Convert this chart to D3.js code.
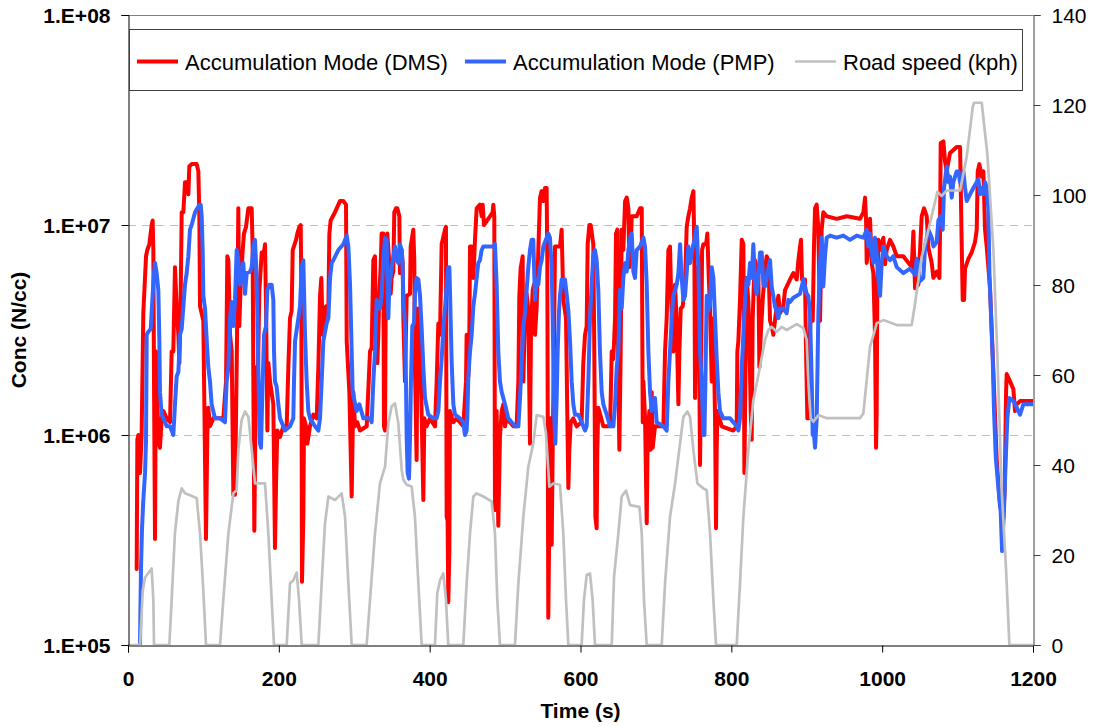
<!DOCTYPE html>
<html><head><meta charset="utf-8">
<script src="https://cdn.jsdelivr.net/npm/d3@7"></script>
<style>
body{margin:0;background:#fff;}
svg{display:block;font-family:"Liberation Sans",Arial,sans-serif;}
</style>
</head><body>
<svg id="chart" width="1095" height="727"></svg>
<script>
// ---------------- DATA ----------------
const dmsTime = [11.5,12.4,13.7,15.9,18.1,20.3,23.9,25.6,28.3,31.4,32.7,33.6,34.5,35.8,37.1,38.9,41.1,42.4,44.7,46.9,51.3,55.7,57.9,60.1,62.3,64.5,66.8,68.1,69.8,71.2,73.4,75.6,77.8,80.0,81.3,84.4,91.1,93.3,94.6,95.5,99.9,103.4,105.2,106.5,108.7,113.2,122.0,126.4,130.0,131.7,133.1,135.3,137.5,139.7,141.9,143.2,145.0,146.3,147.6,149.4,152.1,153.8,156.5,159.6,164.0,165.3,166.2,167.5,169.7,171.5,174.2,177.3,179.5,181.7,183.0,184.8,186.1,188.3,192.7,194.9,196.3,198.0,201.6,206.0,210.4,212.6,214.8,217.0,218.4,222.8,224.5,227.2,229.0,229.8,230.7,232.5,233.4,236.0,237.8,241.3,245.8,250.2,252.4,254.6,256.4,258.1,262.6,265.7,267.0,268.7,274.5,276.7,281.1,285.5,289.1,290.0,293.5,296.6,298.8,301.0,304.1,307.6,316.5,320.9,323.1,325.3,327.5,328.8,330.6,331.9,333.2,335.0,336.3,338.5,339.4,340.8,342.1,343.8,346.5,348.3,349.6,351.8,353.1,355.3,357.1,359.8,360.6,362.9,364.2,365.1,367.3,369.5,373.9,374.8,378.3,379.6,380.5,382.7,383.6,385.0,387.2,388.5,389.8,391.6,392.9,396.0,400.4,407.1,409.3,411.5,413.7,415.9,420.3,421.6,422.5,423.8,424.7,426.1,426.9,431.4,435.8,444.6,448.2,449.0,451.3,452.6,453.5,455.7,457.9,460.1,462.3,466.7,468.9,470.3,472.0,480.0,483.5,484.4,485.7,486.6,487.9,488.8,491.0,492.4,493.2,495.5,497.7,499.9,502.1,510.9,515.3,517.6,518.9,520.6,523.3,524.2,525.5,526.8,528.6,530.8,533.0,534.4,536.6,538.3,539.7,541.9,544.1,546.3,548.5,550.7,552.9,555.1,556.0,557.3,558.7,560.4,561.8,563.1,564.8,566.2,572.8,575.0,577.2,580.8,582.5,583.9,585.2,587.0,590.5,594.9,601.5,603.7,606.0,608.2,609.5,611.7,613.5,617.0,618.3,619.7,621.4,622.3,623.6,630.3,639.2,641.4,643.6,645.8,647.1,648.9,650.2,651.5,653.3,654.6,656.8,659.1,661.3,663.5,664.8,666.6,667.9,674.5,679.0,681.2,682.5,683.4,685.6,687.8,689.1,691.3,693.1,694.4,695.7,698.8,709.9,712.1,714.3,716.5,718.7,720.9,723.1,725.4,727.6,729.8,731.1,732.9,735.5,738.6,740.8,743.0,745.2,747.5,749.7,751.0,751.9,753.2,755.0,756.7,758.5,759.8,761.2,762.9,766.5,768.2,769.6,771.8,774.0,776.2,778.4,779.7,780.6,781.5,787.2,802.7,807.1,808.0,809.3,811.5,813.8,816.0,817.3,818.6,820.4,822.6,823.9,825.7,827.0,828.3,830.1,831.4,833.6,835.9,837.2,839.0,841.6,844.7,846.9,849.1,851.3,853.5,855.7,860.1,862.4,864.6,869.0,871.2,877.8,882.2,886.7,888.9,891.1,892.4,893.7,897.7,899.0,900.8,902.1,903.5,905.2,907.9,909.6,911.0,913.2,915.4,917.6,919.8,922.0,926.4,939.7,953.0,970.6,975.1,977.3,978.6,979.5,981.7,983.9,986.1,988.3,990.5,991.9,992.7,993.6,995.0,997.2,1001.6,1003.8,1006.0,1010.4,1014.8,1019.3,1028.1,1039.2,1041.4,1043.6,1048.0,1052.4,1055.5,1059.1,1061.3,1065.7,1067.9,1072.3,1075.9,1076.7,1077.6,1081.2,1083.4,1085.6,1087.8,1090.0,1098.8,1103.3,1105.5,1106.8,1108.6,1109.9,1114.3,1118.7,1123.1,1125.4,1126.7,1128.9,1132.0,1134.2,1136.4,1138.6,1143.0,1147.5,1151.9,1156.3,1160.7,1162.5,1164.3,1165.1,1169.6,1174.0,1176.2,1178.4,1182.8,1191.7,1200];
const dmsConc = [2.3e5,9.5e5,1.0e6,6.6e5,1.0e6,3.8e6,7.1e6,7.6e6,8.1e6,1.0e7,1.05e7,7.6e6,1.8e6,3.2e5,2.5e6,1.4e6,9.1e5,8.7e5,1.2e6,1.3e6,1.2e6,1.15e6,2.5e6,2.5e6,6.3e6,4.1e6,3.0e6,2.2e6,4.4e6,1.15e7,1.15e7,1.6e7,1.6e7,1.4e7,1.9e7,1.95e7,1.95e7,1.8e7,1.1e7,4.1e6,3.5e6,3.2e5,1.0e6,1.35e6,1.1e6,1.2e6,1.2e6,1.2e6,1.8e6,7.1e6,6.8e6,3.0e6,2.5e6,5.2e5,5.2e5,1.2e6,3.9e6,1.2e7,3.3e6,5.2e6,7.6e6,9.1e6,9.8e6,1.2e7,1.2e7,7.6e6,1.8e6,3.5e5,2.1e6,1.35e6,4.9e6,7.4e6,7.1e6,8.1e6,4.1e6,1.05e6,2.2e6,1.8e6,1.4e6,2.9e5,5.9e5,1.05e6,9.8e5,1.1e6,1.1e6,2.1e6,3.6e6,3.9e6,7.6e6,8.5e6,9.1e6,9.8e6,1.0e7,5.2e6,2.0e5,4.1e5,1.2e6,1.1e6,9.1e5,1.1e6,1.25e6,1.2e6,2.1e6,4.6e6,5.6e6,3.0e6,4.1e6,4.1e6,9.1e6,1.05e7,1.15e7,1.2e7,1.3e7,1.3e7,1.25e7,2.8e6,1.6e6,5.1e5,1.6e6,1.1e6,1.15e6,1.05e6,1.1e6,2.5e6,2.6e6,6.8e6,7.1e6,3.0e6,2.2e6,3.0e6,4.6e6,6.3e6,9.1e6,9.1e6,1.1e6,1.05e6,7.6e6,9.1e6,6.6e6,4.7e6,5.6e6,6.0e6,1.15e7,1.2e7,1.2e7,1.1e7,5.9e6,7.6e6,6.6e6,3.6e6,1.8e6,4.6e6,4.7e6,7.9e6,9.5e6,6.8e6,2.1e6,7.6e5,2.1e6,4.0e6,3.6e6,1.8e6,1.05e6,4.9e5,1.2e6,1.1e6,1.2e6,1.1e6,1.8e6,3.4e6,3.0e6,8.1e6,9.5e6,9.8e6,4.1e5,3.9e5,1.6e5,2.8e5,1.3e6,1.15e6,1.2e6,1.1e6,1.8e6,3.0e6,1.9e6,3.0e6,7.9e6,7.9e6,5.6e6,8.5e6,1.2e7,1.25e7,1.1e7,1.25e7,1.0e7,1.1e7,1.15e7,1.25e7,1.1e7,4.4e5,8.5e5,1.3e6,3.7e5,6.8e5,9.8e5,1.3e6,1.4e6,1.1e6,1.2e6,1.1e6,1.1e6,1.8e6,4.6e6,6.2e6,7.1e6,1.8e6,2.8e6,4.4e6,4.7e6,3.9e6,9.1e5,3.2e6,4.9e6,5.2e6,3.0e6,4.1e6,7.6e6,1.35e7,1.45e7,1.3e7,1.5e7,1.5e7,6.6e6,1.35e5,4.1e5,1.2e6,3.0e5,8.5e5,2.6e6,7.9e6,7.9e6,9.5e6,4.4e6,3.6e6,1.25e6,5.6e5,8.5e5,1.15e6,1.2e6,1.1e6,1.15e6,2.2e6,3.0e6,3.3e6,8.1e6,1.0e7,1.0e7,8.1e6,2.5e6,4.1e5,3.6e5,8.5e5,1.35e6,1.1e6,1.1e6,2.5e6,2.3e6,3.6e6,9.1e6,9.5e6,1.8e6,8.5e5,2.5e6,9.5e6,7.6e6,1.3e7,1.35e7,1.2e7,6.3e6,7.6e6,1.1e7,1.1e7,1.2e7,1.2e7,1.15e6,1.8e6,1.2e6,3.8e5,1.0e6,1.3e6,8.5e5,1.6e6,8.7e5,1.1e6,1.1e6,2.5e6,3.6e6,7.6e6,7.9e6,3.6e6,2.5e6,5.2e6,3.3e6,1.4e6,2.5e6,4.0e6,4.1e6,5.2e6,9.8e6,1.1e7,1.2e7,1.35e7,1.45e7,7.6e6,1.5e6,4.4e6,6.3e6,5.2e6,7.2e5,1.8e6,7.6e6,8.1e6,8.1e6,9.1e6,6.3e6,3.9e6,1.8e6,3.6e6,1.2e6,3.6e5,8.5e5,1.3e6,1.1e6,1.05e6,1.1e6,2.5e6,2.8e6,4.4e6,8.5e6,8.1e6,6.6e5,1.8e6,5.6e6,4.3e6,3.0e6,1.3e6,9.5e5,3.6e6,5.6e6,6.8e6,6.3e6,5.6e6,2.1e6,3.0e6,4.4e6,6.2e6,7.1e6,6.8e6,3.5e6,3.3e6,3.0e6,4.1e6,4.6e6,3.8e6,4.1e6,4.9e6,5.5e6,5.9e6,5.5e6,6.8e6,7.9e6,8.5e6,5.5e6,5.5e6,2.6e6,1.2e6,1.2e6,2.6e6,3.8e6,3.5e6,7.9e6,1.2e7,1.25e7,9.5e6,3.5e6,9.5e6,1.15e7,1.1e7,1.07e7,1.1e7,1.07e7,1.15e7,1.35e7,1.07e7,6.6e6,7.9e6,1.07e7,6.6e6,5.9e6,3.0e6,8.7e5,1.25e6,5.2e6,8.5e6,7.6e6,8.7e6,6.5e6,7.6e6,8.5e6,7.9e6,7.1e6,7.1e6,6.3e6,9.3e6,5.0e6,5.2e6,1.1e7,1.2e7,1.1e7,7.8e6,6.6e6,5.6e6,6.0e6,5.6e6,9.1e6,2.45e7,2.5e7,2.0e7,1.8e7,2.0e7,2.2e7,2.35e7,2.35e7,7.9e6,4.4e6,4.4e6,6.2e6,6.9e6,7.4e6,8.3e6,9.5e6,1.8e7,1.95e7,1.7e7,1.8e7,9.5e6,7.9e6,5.0e6,2.0e6,7.6e5,4.6e5,4.0e5,5.6e5,1.6e6,1.95e6,1.8e6,1.65e6,1.3e6,1.4e6,1.45e6,1.45e6,1.45e6];

const pmpTime = [15.9,17.2,18.6,20.3,22.6,23.9,24.8,27.0,30.1,32.3,34.5,35.8,38.0,40.2,41.6,42.4,44.7,46.9,51.3,55.7,60.1,62.3,64.5,66.8,69.0,71.2,73.4,75.6,77.8,80.0,82.2,84.4,88.9,91.9,94.6,96.4,97.7,99.0,99.9,102.1,105.2,106.5,108.7,110.9,115.4,122.0,128.6,130.8,133.1,135.3,137.5,139.7,141.9,144.1,146.3,148.5,150.7,152.9,155.2,157.4,161.8,164.0,166.2,168.4,170.6,172.8,174.2,175.0,176.4,177.3,178.6,180.4,183.0,184.8,187.4,190.5,192.7,193.6,194.9,197.1,199.3,201.6,208.2,214.8,219.2,220.1,221.5,225.9,228.1,230.3,232.5,234.7,236.9,239.1,241.3,248.0,252.4,254.6,256.8,259.0,263.4,265.7,267.9,270.1,272.3,278.9,285.5,290.0,292.2,294.4,296.6,297.9,303.2,306.8,312.1,320.9,323.1,325.3,327.5,329.7,334.1,336.3,338.5,340.8,343.0,345.2,346.5,349.6,354.0,356.2,358.4,360.6,362.9,364.2,365.1,367.3,368.6,369.5,370.8,372.6,373.9,375.2,377.0,379.2,380.5,382.7,385.0,387.2,389.4,391.6,393.8,398.2,404.8,409.3,411.5,413.7,415.9,418.1,420.3,423.4,424.7,426.1,426.9,429.2,431.4,433.6,440.2,444.6,446.8,449.0,449.9,451.3,453.5,455.7,457.9,460.1,462.3,464.5,466.7,468.9,471.1,480.0,484.4,486.6,488.8,491.0,493.2,495.5,499.9,504.3,513.1,517.6,519.8,522.0,524.2,526.4,528.6,530.8,533.0,535.2,537.4,539.7,541.9,544.1,546.3,548.5,550.7,555.1,557.3,559.5,561.8,563.1,564.0,565.3,566.6,568.4,569.7,571.5,572.8,575.0,577.2,579.4,581.6,583.9,586.1,588.3,590.5,592.7,597.1,601.5,606.0,608.2,610.4,612.6,614.8,617.0,619.2,621.4,623.6,625.8,628.1,630.3,634.7,639.2,643.6,645.8,648.0,650.2,652.4,654.6,656.8,659.1,661.3,663.5,665.7,667.9,670.1,672.3,674.5,679.0,683.4,685.6,687.8,690.0,692.2,694.4,696.6,698.8,701.0,709.9,714.3,716.5,718.7,720.9,723.1,727.6,729.8,732.0,734.2,736.4,738.6,740.8,743.0,745.2,749.7,751.9,754.1,756.3,758.5,760.7,762.9,764.3,765.6,767.3,769.6,771.8,774.0,776.2,778.4,780.6,782.8,785.0,789.4,798.3,807.1,809.3,811.5,813.8,816.0,818.2,820.4,822.6,824.8,827.0,829.2,831.4,833.6,835.9,838.1,840.3,842.5,844.7,846.9,849.1,851.3,853.5,857.9,862.4,864.6,869.0,873.4,875.6,877.8,882.2,886.7,891.1,895.5,897.7,899.9,902.1,904.3,906.6,907.9,909.6,911.0,913.2,915.4,917.6,919.8,922.0,924.2,926.4,930.9,939.7,948.5,957.4,966.2,975.1,979.5,981.7,983.9,986.1,988.3,990.5,992.7,995.0,997.2,999.4,1001.6,1006.0,1010.4,1014.8,1019.3,1028.1,1036.9,1043.6,1045.8,1050.2,1054.6,1056.9,1061.3,1065.7,1067.9,1072.3,1074.5,1077.6,1080.3,1082.0,1085.6,1087.8,1090.0,1092.2,1094.4,1098.8,1101.1,1103.3,1107.7,1109.9,1112.1,1116.5,1120.9,1127.6,1129.8,1132.0,1134.2,1136.4,1138.6,1140.8,1142.2,1143.9,1146.6,1148.3,1150.6,1154.1,1157.2,1159.0,1161.6,1164.3,1166.0,1168.7,1174.0,1178.4,1182.8,1187.2,1191.7,1200];
const pmpConc = [1.0e5,2.3e5,3.6e5,4.9e5,6.6e5,9.5e5,3.0e6,3.1e6,3.2e6,4.4e6,5.9e6,6.6e6,5.9e6,4.9e6,2.8e6,1.6e6,1.25e6,1.2e6,1.1e6,1.1e6,1.0e6,1.4e6,1.9e6,2.0e6,3.0e6,3.2e6,4.1e6,5.2e6,5.9e6,7.1e6,9.5e6,1.0e7,1.15e7,1.2e7,1.25e7,1.25e7,1.1e7,7.6e6,4.6e6,4.0e6,2.5e6,2.1e6,1.8e6,1.4e6,1.2e6,1.2e6,1.15e6,1.8e6,2.1e6,3.6e6,4.3e6,3.3e6,4.4e6,7.6e6,6.8e6,5.2e6,5.6e6,6.6e6,4.7e6,5.9e6,6.0e6,6.3e6,7.9e6,8.5e6,5.6e6,2.1e6,1.1e6,9.1e5,8.7e5,1.2e6,1.8e6,3.0e6,3.3e6,4.9e6,5.2e6,5.2e6,4.4e6,2.5e6,1.8e6,1.7e6,1.4e6,1.2e6,1.05e6,1.1e6,1.2e6,1.8e6,2.8e6,3.6e6,4.1e6,6.3e6,6.8e6,3.0e6,1.8e6,1.3e6,1.2e6,1.1e6,1.05e6,1.2e6,1.8e6,2.8e6,3.4e6,3.6e6,5.6e6,6.6e6,6.8e6,7.6e6,8.1e6,8.9e6,7.9e6,5.2e6,2.5e6,1.6e6,1.3e6,1.4e6,1.2e6,1.2e6,1.15e6,1.8e6,2.5e6,4.4e6,4.0e6,4.6e6,6.8e6,8.7e6,8.5e6,3.6e6,5.1e6,6.3e6,7.9e6,6.8e6,6.6e6,8.1e6,7.6e6,6.3e6,4.6e6,3.3e6,1.8e6,9.8e5,6.6e5,6.2e5,9.5e5,1.8e6,3.3e6,3.4e6,4.7e6,5.6e6,5.5e6,4.6e6,3.2e6,2.1e6,1.5e6,1.25e6,1.2e6,1.2e6,1.3e6,1.8e6,2.3e6,3.2e6,4.0e6,5.6e6,6.3e6,6.3e6,4.9e6,2.2e6,1.4e6,1.25e6,1.2e6,1.15e6,1.0e6,1.05e6,1.2e6,1.9e6,2.5e6,3.0e6,4.1e6,4.7e6,5.6e6,6.6e6,6.8e6,7.6e6,7.9e6,7.9e6,7.9e6,8.1e6,5.2e6,2.5e6,1.8e6,1.6e6,1.4e6,1.2e6,1.1e6,1.1e6,1.5e6,2.2e6,3.3e6,3.8e6,4.9e6,6.3e6,7.6e6,8.5e6,8.5e6,4.4e6,5.5e6,5.2e6,6.3e6,6.8e6,7.9e6,8.7e6,9.1e6,8.7e6,6.3e6,3.6e6,2.3e6,1.2e6,9.1e5,1.5e6,2.5e6,3.9e6,4.6e6,5.5e6,5.1e6,5.5e6,4.7e6,3.9e6,2.8e6,1.8e6,1.4e6,1.25e6,1.25e6,1.15e6,1.05e6,1.1e6,1.8e6,3.6e6,5.2e6,7.2e6,7.6e6,6.8e6,4.9e6,2.5e6,1.6e6,1.4e6,1.25e6,1.1e6,1.1e6,1.4e6,2.1e6,2.5e6,4.9e6,4.0e6,5.6e6,6.6e6,6.0e6,7.6e6,8.7e6,9.1e6,6.0e6,5.6e6,7.6e6,7.9e6,8.7e6,7.9e6,5.2e6,2.5e6,1.6e6,1.3e6,1.4e6,1.5e6,1.15e6,1.1e6,1.05e6,1.8e6,2.5e6,3.6e6,4.6e6,5.2e6,5.9e6,8.1e6,5.6e6,4.4e6,4.6e6,5.9e6,7.9e6,6.6e6,8.1e6,8.7e6,9.8e6,6.3e6,2.5e6,1.8e6,1.0e6,1.0e6,1.8e6,4.6e6,3.9e6,4.4e6,6.3e6,5.6e6,3.6e6,2.3e6,1.6e6,1.3e6,1.2e6,1.2e6,1.1e6,1.05e6,1.2e6,2.1e6,3.0e6,4.4e6,5.6e6,5.2e6,6.6e6,5.6e6,8.1e6,5.2e6,4.7e6,5.6e6,7.4e6,7.4e6,5.2e6,5.1e6,5.6e6,6.2e6,6.8e6,5.1e6,4.1e6,3.6e6,4.0e6,4.0e6,3.8e6,4.4e6,4.3e6,4.5e6,4.6e6,4.7e6,5.5e6,5.1e6,4.7e6,4.6e6,3.8e6,1.8e6,1.0e6,1.0e6,8.7e5,1.2e6,3.8e6,6.6e6,8.7e6,5.1e6,7.1e6,8.7e6,8.9e6,8.7e6,8.9e6,8.5e6,8.9e6,8.7e6,9.5e6,7.9e6,9.1e6,7.4e6,6.6e6,8.7e6,7.4e6,5.5e6,4.6e6,6.6e6,7.9e6,7.1e6,6.8e6,7.1e6,6.3e6,5.9e6,6.2e6,5.8e6,6.9e6,5.4e6,5.6e6,7.9e6,9.5e6,8.7e6,7.9e6,8.3e6,1.05e7,1.1e7,9.5e6,1.5e7,1.9e7,1.6e7,1.7e7,1.35e7,1.6e7,1.8e7,1.8e7,1.6e7,1.8e7,1.5e7,1.3e7,1.4e7,1.5e7,1.65e7,1.4e7,1.5e7,1.4e7,1.6e7,1.5e7,1.2e7,5.9e6,4.1e6,2.3e6,1.3e6,7.9e5,5.6e5,4.3e5,2.8e5,4.5e5,8.5e5,1.2e6,1.5e6,1.45e6,1.35e6,1.25e6,1.4e6,1.4e6,1.4e6];

const speedTime = [0,16,19.5,22.6,29.2,31.4,33.6,34.5,54.8,57.9,62.3,66.8,71.2,75.6,82.2,91.1,95.5,99.9,103.4,122,126.4,133.1,139.7,144.1,146.3,150.7,155.2,159.6,164,168.4,181.7,186.1,190.5,193.6,210.4,214.8,219.2,223.7,226.8,230.3,252.4,256.8,261.2,265.7,274.5,283.3,287.8,292.2,296.6,316.4,320.9,327.5,334.1,340.8,345.2,349.6,354,358.4,362.9,365.1,369.5,376.1,380.5,385,389.4,407,410.1,413.7,418.1,421.6,424.7,444.6,449,453.5,457.9,462.3,471.1,482.2,486.6,489.7,493.2,513.1,517.6,524.2,530.8,537.4,541.9,550.7,554.2,558.7,564,572.8,577.2,580.8,583.9,601.5,604.6,608.2,612.6,616.1,619.2,641.4,644.5,650.2,654.6,660.4,665.7,678.1,681.2,684.2,687.8,707.7,712.1,718.7,725.4,732,736.4,741.7,745.2,749.7,755,762.9,767.3,771.8,776.2,779.7,807.1,811.5,816,822.6,829.2,838.1,844.7,849.1,853.5,860.2,866.8,873.4,886.7,895.5,899.9,902.2,905.2,908.8,915.4,926.5,957.4,970.6,975.1,979.5,983.9,989.2,992.7,1001.6,1019.3,1039.2,1043.6,1052.4,1061.3,1073.2,1078.9,1085.6,1103.3,1112.1,1120.1,1121.8,1132,1139.5,1147.5,1152.8,1158.5,1164.3,1167.4,1168.7,1200];
const speedKph = [0,0,12,15,16.5,17,10,0,0,10,25,32,34.8,33.7,33.3,32.6,24.8,12,0,0,10,24.8,33.7,34.4,43.3,50,51.9,50.7,43.3,35.9,35.9,24.8,10,0,0,13.7,14.4,16.1,10,0,0,13.7,27,33,32.2,33.7,28.5,13.7,0,0,10,24.8,35.9,39.6,49.3,53,53.7,49.3,38.9,36.7,35.6,35.2,28.5,13.7,0,0,11.5,14.4,15.9,10,0,0,13.7,24.8,33,33.7,33,31.9,24.8,10,0,0,13.7,28.5,39.6,44.8,51.1,50.7,47,35.2,35.9,35.6,24.8,10,0,0,10,15.6,15.9,10,0,0,15.2,24.8,33,34.3,31.1,30.7,24.8,10,0,0,13.7,28.5,35.9,44.8,50.7,51.9,50.7,43.3,35.9,34.8,34.4,24.8,10,0,0,13.7,28.5,43.3,54.4,61.9,67.8,70,70.7,69.6,70.7,70,71.3,70.4,67.8,58.1,50.4,49.6,51.1,50.4,50.4,50.4,51.5,58.9,66.3,69.3,71.5,72.2,71.1,71.1,75.9,86.3,92.2,100.7,99.8,101,101,108.5,119.6,120.5,120.5,109,87.8,64,34.4,16.7,5,0,0];

const seriesNames = ["Accumulation Mode (DMS)", "Accumulation Mode (PMP)", "Road speed (kph)"];
const timeTicks = [0,200,400,600,800,1000,1200];
const concTicks = [1e5,1e6,1e7,1e8];
const concTickLabels = ["1.E+05","1.E+06","1.E+07","1.E+08"];
const concGrid = [1e6,1e7];
const speedTicks = [0,20,40,60,80,100,120,140];

// ---------------- DRAW ----------------
const svg = d3.select("#chart");
const L = 128, R = 1033, T = 15, B = 645;

const x = d3.scaleLinear().domain([0,1200]).range([L,R]);
const yL = d3.scaleLog().domain([1e5,1e8]).range([B,T]);
const yR = d3.scaleLinear().domain([0,140]).range([B,T]);

svg.append("rect").attr("width",1095).attr("height",727).attr("fill","#fff");

// gridlines
svg.append("g").selectAll("line").data(concGrid).join("line")
  .attr("x1",L).attr("x2",R)
  .attr("y1",d=>Math.round(yL(d))+0.5).attr("y2",d=>Math.round(yL(d))+0.5)
  .attr("stroke","#bfbfbf").attr("stroke-width",1).attr("stroke-dasharray","8,6");

// top border
svg.append("line").attr("x1",L).attr("x2",R).attr("y1",T+0.5).attr("y2",T+0.5)
  .attr("stroke","#808080").attr("stroke-width",1);

svg.append("clipPath").attr("id","pc").append("rect")
  .attr("x",L).attr("y",T-3).attr("width",R-L).attr("height",B-T+3);

const dmsData = dmsTime.map((t,i)=>[t,dmsConc[i]]);
const pmpData = pmpTime.map((t,i)=>[t,pmpConc[i]]);
const spdData = speedTime.map((t,i)=>[t,speedKph[i]]);

const lineL = d3.line().x(d=>x(d[0])).y(d=>yL(d[1]));
const lineR = d3.line().x(d=>x(d[0])).y(d=>yR(d[1]));

const plot = svg.append("g").attr("clip-path","url(#pc)");
plot.append("path").datum(dmsData).attr("d",lineL)
  .attr("fill","none").attr("stroke","#ff0000").attr("stroke-width",4)
  .attr("stroke-linejoin","round").attr("stroke-linecap","round");
plot.append("path").datum(pmpData).attr("d",lineL)
  .attr("fill","none").attr("stroke","#3366ff").attr("stroke-width",4)
  .attr("stroke-linejoin","round").attr("stroke-linecap","round");
plot.append("path").datum(spdData).attr("d",lineR)
  .attr("fill","none").attr("stroke","#c0c0c0").attr("stroke-width",2.7)
  .attr("stroke-linejoin","round");

// axes
const font = '"Liberation Sans", Arial, sans-serif';
const axL = svg.append("g").attr("transform",`translate(${L+0.5},0)`)
  .call(d3.axisLeft(yL).tickValues(concTicks).tickFormat((d,i)=>concTickLabels[i]).tickSize(7).tickPadding(11));
axL.select(".domain").attr("stroke","#000");
axL.selectAll(".tick line").attr("stroke","#000");
axL.selectAll("text").attr("font-family",font).attr("font-size",21).attr("font-weight","bold").attr("fill","#000").attr("dy","0.36em");

const axB = svg.append("g").attr("transform",`translate(0,${B+0.5})`)
  .call(d3.axisBottom(x).tickValues(timeTicks).tickFormat(d3.format("d")).tickSize(7).tickPadding(19));
axB.select(".domain").attr("stroke","#000");
axB.selectAll(".tick line").attr("stroke","#000");
axB.selectAll("text").attr("font-family",font).attr("font-size",21).attr("font-weight","bold").attr("fill","#000");

const axR = svg.append("g").attr("transform",`translate(${R+0.5},0)`)
  .call(d3.axisRight(yR).tickValues(speedTicks).tickSize(7).tickPadding(11));
axR.select(".domain").attr("stroke","#404040");
axR.selectAll(".tick line").attr("stroke","#404040");
axR.selectAll("text").attr("font-family",font).attr("font-size",21).attr("fill","#000").attr("dy","0.36em");

// axis titles
svg.append("text").attr("x",(L+R)/2).attr("y",717.5).attr("text-anchor","middle")
  .attr("font-family",font).attr("font-size",21).attr("font-weight","bold").text("Time (s)");
svg.append("text").attr("transform",`translate(26,${(T+B)/2}) rotate(-90)`).attr("text-anchor","middle")
  .attr("font-family",font).attr("font-size",21).attr("font-weight","bold").text("Conc (N/cc)");

// legend
const lg = svg.append("g");
lg.append("rect").attr("x",129.5).attr("y",29.5).attr("width",893).attr("height",61)
  .attr("fill","#fff").attr("stroke","#404040").attr("stroke-width",1);
const legendColors = ["#ff0000","#3366ff","#c0c0c0"];
const legendWidths = [4,4,2.7];
const legendX = [137,465,795];
seriesNames.forEach((name,i)=>{
  lg.append("line").attr("x1",legendX[i]).attr("x2",legendX[i]+41).attr("y1",61.5).attr("y2",61.5)
    .attr("stroke",legendColors[i]).attr("stroke-width",legendWidths[i]);
  lg.append("text").attr("x",legendX[i]+48).attr("y",69.5)
    .attr("font-family",font).attr("font-size",22).attr("fill","#000").text(name);
});
</script>
</body></html>
